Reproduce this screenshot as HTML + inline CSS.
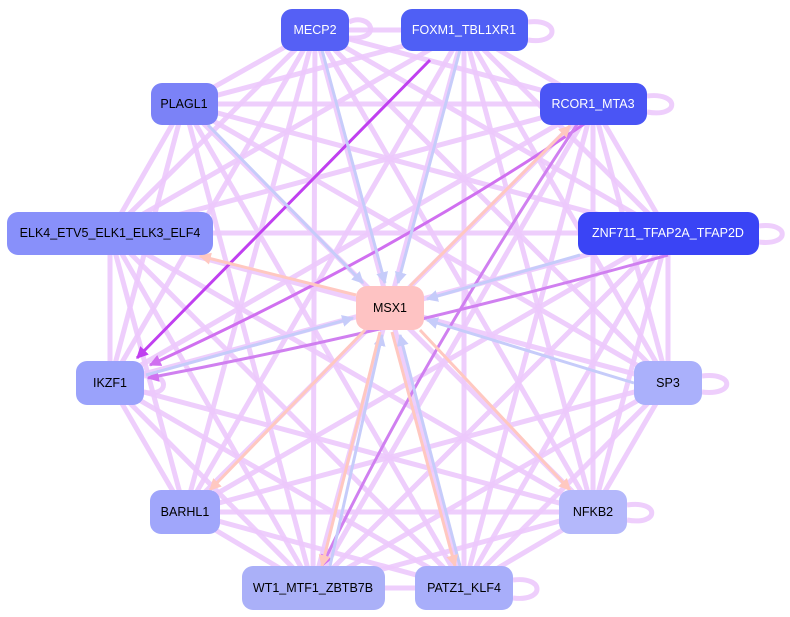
<!DOCTYPE html>
<html><head><meta charset="utf-8"><style>
html,body{margin:0;padding:0;background:#fff;width:790px;height:617px;overflow:hidden}
svg{display:block}
text{font-family:"Liberation Sans",sans-serif;font-size:12.5px;text-anchor:middle;dominant-baseline:central}
</style></head><body>
<svg width="790" height="617" viewBox="0 0 790 617">
<defs>
<marker id="mb" viewBox="0 0 10 10" refX="9" refY="5" markerWidth="4" markerHeight="4" orient="auto"><path d="M0,0L10,5L0,10z" fill="#c6ccfa"/></marker>
<marker id="mp" viewBox="0 0 10 10" refX="9" refY="5" markerWidth="4" markerHeight="4" orient="auto"><path d="M0,0L10,5L0,10z" fill="#ffc8c0"/></marker>
<marker id="mv" viewBox="0 0 10 10" refX="9" refY="5" markerWidth="4" markerHeight="4" orient="auto"><path d="M0,0L10,5L0,10z" fill="#c040f0"/></marker>
<marker id="ml" viewBox="0 0 10 10" refX="9" refY="5" markerWidth="4" markerHeight="4" orient="auto"><path d="M0,0L10,5L0,10z" fill="#d070f0"/></marker>
</defs>
<g stroke="#ecc9fc" stroke-width="5" stroke-opacity="0.9" fill="none">
<line x1="315" y1="30" x2="464" y2="30"/><line x1="315" y1="30" x2="184" y2="104"/><line x1="315" y1="30" x2="593" y2="104"/><line x1="315" y1="30" x2="110" y2="233"/><line x1="315" y1="30" x2="668" y2="233"/><line x1="315" y1="30" x2="110" y2="383"/><line x1="315" y1="30" x2="668" y2="383"/><line x1="315" y1="30" x2="185" y2="512"/><line x1="315" y1="30" x2="593" y2="512"/><line x1="315" y1="30" x2="313" y2="588"/><line x1="315" y1="30" x2="464" y2="588"/>
<line x1="464" y1="30" x2="184" y2="104"/><line x1="464" y1="30" x2="593" y2="104"/><line x1="464" y1="30" x2="110" y2="233"/><line x1="464" y1="30" x2="668" y2="233"/><line x1="464" y1="30" x2="668" y2="383"/><line x1="464" y1="30" x2="185" y2="512"/><line x1="464" y1="30" x2="593" y2="512"/><line x1="464" y1="30" x2="313" y2="588"/><line x1="464" y1="30" x2="464" y2="588"/>
<line x1="184" y1="104" x2="593" y2="104"/><line x1="184" y1="104" x2="110" y2="233"/><line x1="184" y1="104" x2="668" y2="233"/><line x1="184" y1="104" x2="110" y2="383"/><line x1="184" y1="104" x2="668" y2="383"/><line x1="184" y1="104" x2="593" y2="512"/><line x1="184" y1="104" x2="313" y2="588"/><line x1="184" y1="104" x2="464" y2="588"/>
<line x1="593" y1="104" x2="110" y2="233"/><line x1="593" y1="104" x2="668" y2="233"/><line x1="593" y1="104" x2="110" y2="383"/><line x1="593" y1="104" x2="668" y2="383"/><line x1="593" y1="104" x2="185" y2="512"/><line x1="593" y1="104" x2="593" y2="512"/><line x1="593" y1="104" x2="313" y2="588"/><line x1="593" y1="104" x2="464" y2="588"/>
<line x1="110" y1="233" x2="668" y2="233"/><line x1="110" y1="233" x2="110" y2="383"/><line x1="110" y1="233" x2="668" y2="383"/><line x1="110" y1="233" x2="185" y2="512"/><line x1="110" y1="233" x2="593" y2="512"/><line x1="110" y1="233" x2="313" y2="588"/><line x1="110" y1="233" x2="464" y2="588"/>
<line x1="668" y1="233" x2="110" y2="383"/><line x1="668" y1="233" x2="668" y2="383"/><line x1="668" y1="233" x2="185" y2="512"/><line x1="668" y1="233" x2="593" y2="512"/><line x1="668" y1="233" x2="313" y2="588"/><line x1="668" y1="233" x2="464" y2="588"/>
<line x1="110" y1="383" x2="185" y2="512"/><line x1="110" y1="383" x2="593" y2="512"/><line x1="110" y1="383" x2="313" y2="588"/><line x1="110" y1="383" x2="464" y2="588"/>
<line x1="668" y1="383" x2="185" y2="512"/><line x1="668" y1="383" x2="593" y2="512"/><line x1="668" y1="383" x2="313" y2="588"/><line x1="668" y1="383" x2="464" y2="588"/>
<line x1="185" y1="512" x2="593" y2="512"/><line x1="185" y1="512" x2="313" y2="588"/><line x1="185" y1="512" x2="464" y2="588"/>
<line x1="593" y1="512" x2="313" y2="588"/><line x1="593" y1="512" x2="464" y2="588"/><line x1="313" y1="588" x2="464" y2="588"/>
<path d="M349,22 C370,12 385,40 349,38"/><path d="M528,22 C560,18 560,45 528,40"/><path d="M647,96 C680,92 680,118 647,112"/><path d="M759,226 C790,222 790,246 759,242"/><path d="M702,376 C735,372 735,396 702,392"/><path d="M627,505 C660,500 660,526 627,520"/><path d="M513,580 C545,576 545,602 513,598"/><path d="M144,376 C170,372 170,398 144,392"/>
</g>
<g fill="none" stroke-width="3">
<line x1="430" y1="60" x2="137" y2="358" stroke="#c040f0" marker-end="url(#mv)"/>
<path d="M590,120 Q400,250 150,365" stroke="#d070f0" marker-end="url(#ml)"/>
<path d="M668,255 Q400,330 148,378" stroke="#d080f0" marker-end="url(#ml)"/>
<path d="M580,120 Q420,360 322,566" stroke="#d080f0" marker-end="url(#ml)"/>
<line x1="322" y1="50" x2="385" y2="283" stroke="#c6ccfa" marker-end="url(#mb)"/>
<line x1="460" y1="50" x2="398" y2="283" stroke="#c6ccfa" marker-end="url(#mb)"/>
<line x1="208" y1="125" x2="363" y2="283" stroke="#c6ccfa" marker-end="url(#mb)"/>
<line x1="580" y1="255" x2="427" y2="299" stroke="#c6ccfa" marker-end="url(#mb)"/>
<line x1="634" y1="383" x2="427" y2="320" stroke="#c6ccfa" marker-end="url(#mb)"/>
<line x1="146" y1="375" x2="353" y2="318" stroke="#c6ccfa" marker-end="url(#mb)"/>
<line x1="460" y1="566" x2="400" y2="335" stroke="#c6ccfa" marker-end="url(#mb)"/>
<line x1="330" y1="566" x2="382" y2="335" stroke="#c6ccfa" marker-end="url(#mb)"/>
<line x1="356" y1="295" x2="200" y2="256" stroke="#ffc8c0" marker-end="url(#mp)"/>
<line x1="410" y1="286" x2="570" y2="126" stroke="#ffc8c0" marker-end="url(#mp)"/>
<line x1="365" y1="330" x2="210" y2="490" stroke="#ffc8c0" marker-end="url(#mp)"/>
<line x1="380" y1="332" x2="322" y2="566" stroke="#ffc8c0" marker-end="url(#mp)"/>
<line x1="392" y1="332" x2="455" y2="566" stroke="#ffc8c0" marker-end="url(#mp)"/>
<line x1="420" y1="330" x2="570" y2="490" stroke="#ffc8c0" marker-end="url(#mp)"/>
</g>
<g>
<rect x="281" y="9" width="68" height="42" rx="11" fill="#5560f5"/><text x="315" y="30" fill="#fff">MECP2</text>
<rect x="401" y="9" width="127" height="42" rx="11" fill="#4f5ff5"/><text x="464" y="30" fill="#fff">FOXM1_TBL1XR1</text>
<rect x="151" y="83" width="67" height="42" rx="11" fill="#7b82f7"/><text x="184" y="104" fill="#000">PLAGL1</text>
<rect x="540" y="83" width="107" height="42" rx="11" fill="#4a55f5"/><text x="593" y="104" fill="#fff">RCOR1_MTA3</text>
<rect x="7" y="212" width="206" height="43" rx="11" fill="#8890fa"/><text x="110" y="233" fill="#000">ELK4_ETV5_ELK1_ELK3_ELF4</text>
<rect x="578" y="212" width="181" height="43" rx="11" fill="#3a44f5"/><text x="668" y="233" fill="#fff">ZNF711_TFAP2A_TFAP2D</text>
<rect x="356" y="286" width="68" height="44" rx="11" fill="#fec3c3"/><text x="390" y="308" fill="#000">MSX1</text>
<rect x="76" y="361" width="68" height="44" rx="11" fill="#9aa2fb"/><text x="110" y="383" fill="#000">IKZF1</text>
<rect x="634" y="361" width="68" height="44" rx="11" fill="#aab0fb"/><text x="668" y="383" fill="#000">SP3</text>
<rect x="150" y="490" width="70" height="44" rx="11" fill="#a0a6fb"/><text x="185" y="512" fill="#000">BARHL1</text>
<rect x="559" y="490" width="68" height="44" rx="11" fill="#b4b8fb"/><text x="593" y="512" fill="#000">NFKB2</text>
<rect x="242" y="566" width="143" height="44" rx="11" fill="#aab0f8"/><text x="313" y="588" fill="#000">WT1_MTF1_ZBTB7B</text>
<rect x="415" y="566" width="98" height="44" rx="11" fill="#a8aefa"/><text x="464" y="588" fill="#000">PATZ1_KLF4</text>
</g>
</svg>
</body></html>
